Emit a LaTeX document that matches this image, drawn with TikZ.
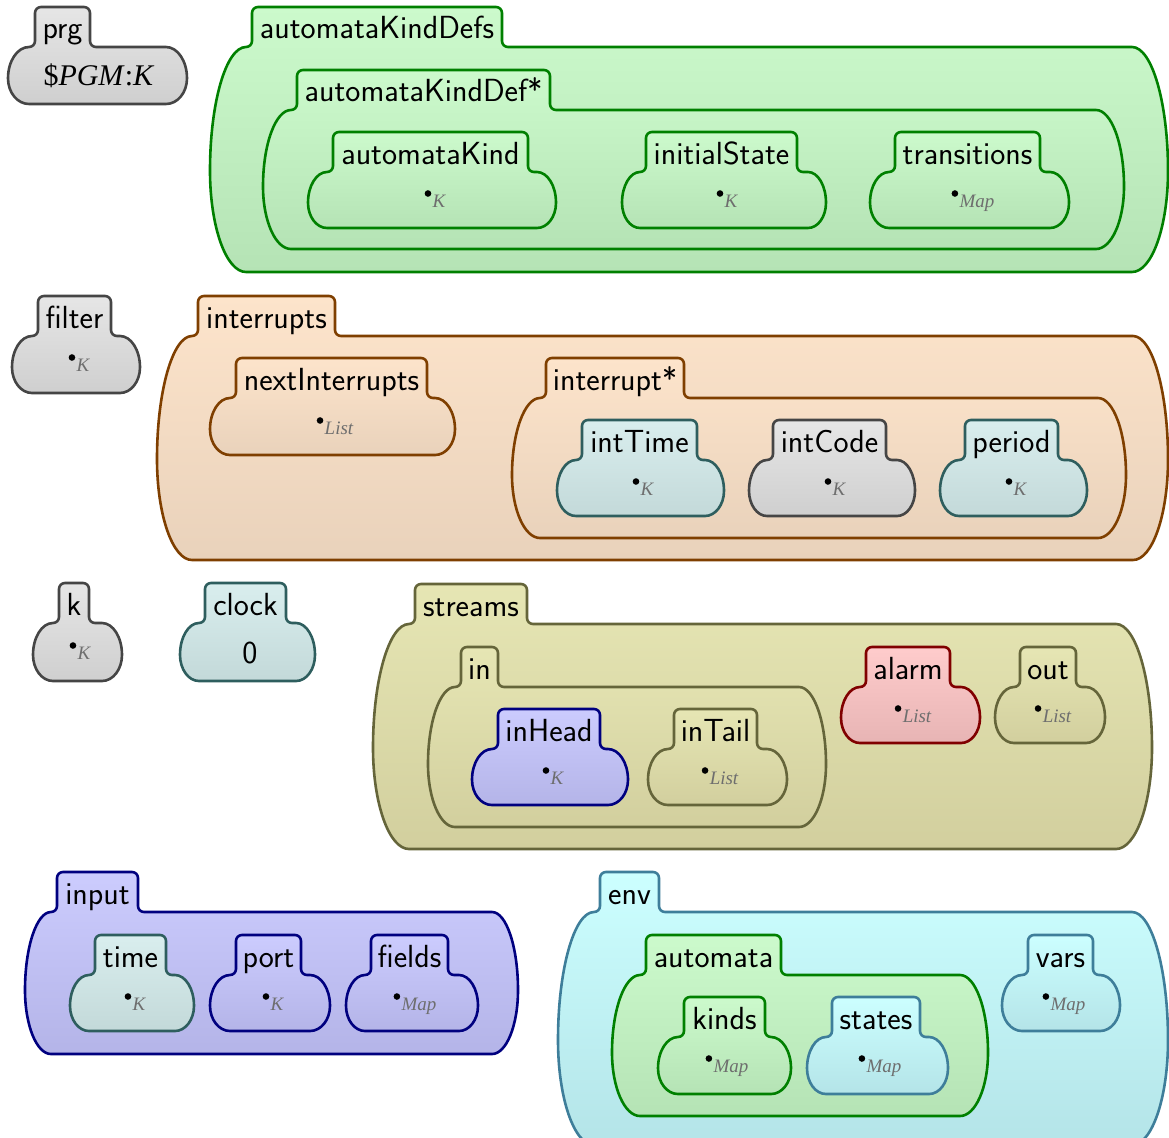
\documentclass[tikz,border=0pt]{standalone}
\usepackage{fontspec}
\newfontfamily\sortfont{Liberation Serif}
\definecolor{grayT}{HTML}{E6E6E6}\definecolor{grayB}{HTML}{CFCFCF}\definecolor{grayD}{HTML}{454545}
\definecolor{greenT}{HTML}{CCFACC}\definecolor{greenB}{HTML}{B5E3B5}\definecolor{greenD}{HTML}{008000}
\definecolor{orangeT}{HTML}{FDE4CB}\definecolor{orangeB}{HTML}{E9D2BB}\definecolor{orangeD}{HTML}{7F3F00}
\definecolor{tealT}{HTML}{D9EEEE}\definecolor{tealB}{HTML}{C3D9D9}\definecolor{tealD}{HTML}{2E5E5E}
\definecolor{oliveT}{HTML}{E6E6B4}\definecolor{oliveB}{HTML}{D2CF9E}\definecolor{oliveD}{HTML}{65653A}
\definecolor{blueT}{HTML}{CCCCFE}\definecolor{blueB}{HTML}{B4B4E8}\definecolor{blueD}{HTML}{00007F}
\definecolor{redT}{HTML}{FFCCCC}\definecolor{redB}{HTML}{E7B4B4}\definecolor{redD}{HTML}{800000}
\definecolor{cyanT}{HTML}{CCFFFF}\definecolor{cyanB}{HTML}{B4E4E8}\definecolor{cyanD}{HTML}{3E7E9A}
\definecolor{sorttext}{HTML}{6E6E6E}
\tikzset{
  cellbase/.style={line width=2.6pt, line join=round},
  kgray/.style={draw=grayD, top color=grayT, bottom color=grayB},
  kgreen/.style={draw=greenD, top color=greenT, bottom color=greenB},
  korange/.style={draw=orangeD, top color=orangeT, bottom color=orangeB},
  kteal/.style={draw=tealD, top color=tealT, bottom color=tealB},
  kolive/.style={draw=oliveD, top color=oliveT, bottom color=oliveB},
  kblue/.style={draw=blueD, top color=blueT, bottom color=blueB},
  kred/.style={draw=redD, top color=redT, bottom color=redB},
  kcyan/.style={draw=cyanD, top color=cyanT, bottom color=cyanB},
  celllabel/.style={anchor=base, inner sep=0pt, font=\sffamily\fontsize{32}{38}\selectfont},
  cellvalue/.style={anchor=center, inner sep=0pt},
  sortlabel/.style={anchor=base, inner sep=0pt, text=sorttext, font=\sortfont\itshape\fontsize{19}{22}\selectfont},
}
% #1 style, #2 L, #3 R, #4 T, #5 B, #6 tab L, #7 tab R, #8 name, #9 label
\newcommand\kcell[9]{%
 \pgfmathsetmacro\kL{#2}\pgfmathsetmacro\kR{#3}\pgfmathsetmacro\kT{#4}\pgfmathsetmacro\kB{#5}%
 \pgfmathsetmacro\ktL{#6}\pgfmathsetmacro\ktR{#7}\pgfmathsetmacro\ktT{#4-40}%
 \pgfmathsetmacro\kf{6}\pgfmathsetmacro\kk{0.5523}%
 \pgfmathsetmacro\krx{\ktL-\kf-\kL}%
 \pgfmathsetmacro\kryT{0.55*(\kB-\kT)}%
 \pgfmathsetmacro\kryB{0.45*(\kB-\kT)}%
 \pgfmathsetmacro\kmid{\kT+\kryT}%
 \pgfmathsetmacro\kc{\kf*(1-\kk)}%
 \path[cellbase,#1] (\ktL-\kf,\kT) .. controls (\ktL-\kc,\kT) and (\ktL,\kT-\kc) .. (\ktL,\kT-\kf)
   -- (\ktL,\ktT+\kf) .. controls (\ktL,\ktT+\kc) and (\ktL+\kc,\ktT) .. (\ktL+\kf,\ktT)
   -- (\ktR-\kf,\ktT) .. controls (\ktR-\kc,\ktT) and (\ktR,\ktT+\kc) .. (\ktR,\ktT+\kf)
   -- (\ktR,\kT-\kf) .. controls (\ktR,\kT-\kc) and (\ktR+\kc,\kT) .. (\ktR+\kf,\kT)
   -- (\kR-\krx,\kT) .. controls (\kR-\krx+\kk*\krx,\kT) and (\kR,\kmid-\kk*\kryT) .. (\kR,\kmid)
   .. controls (\kR,\kmid+\kk*\kryB) and (\kR-\krx+\kk*\krx,\kB) .. (\kR-\krx,\kB)
   -- (\kL+\krx,\kB) .. controls (\kL+\krx-\kk*\krx,\kB) and (\kL,\kmid+\kk*\kryB) .. (\kL,\kmid)
   .. controls (\kL,\kmid-\kk*\kryT) and (\kL+\krx-\kk*\krx,\kT) .. (\kL+\krx,\kT) -- cycle;
 \node[celllabel] (#8) at ({(\ktL+\ktR)/2},\ktT+32) {#9};%
}
% #1 name, #2 cx, #3 cy (body centre), #4 sort
\newcommand\kdot[4]{%
 \node[sortlabel] (#1) at (#2+7,#3+7) {#4};%
 \fill (#1.base west) ++(-4.5,-13.5) circle (3.3);%
}
\begin{document}
\begin{tikzpicture}[x=1pt,y=-1pt]
\useasboundingbox (0,0) rectangle (1169,1137);
\clip (0,0) rectangle (1169,1137);
% prg
\kcell{kgray}{8}{187}{47}{104}{35}{90}{prg}{prg}
\node[cellvalue] (prgval) at (99,76) {\sortfont\fontsize{30}{36}\selectfont\$\textit{PGM}:\textit{K}};
% automataKindDefs
\kcell{kgreen}{210}{1168}{47}{272}{252}{502}{akdefs}{automataKindDefs}
\kcell{kgreen}{263}{1124}{110}{249}{297}{550}{akdef}{automataKindDef*}
\kcell{kgreen}{308}{556}{172}{228}{333}{528}{akind}{automataKind}
\kdot{akindval}{432}{200}{K}
\kcell{kgreen}{622}{826}{172}{228}{646}{797}{istate}{initialState}
\kdot{istateval}{724}{200}{K}
\kcell{kgreen}{870}{1069}{172}{228}{895}{1040}{trans}{transitions}
\kdot{transval}{970}{200}{Map}
% filter
\kcell{kgray}{12}{140}{336}{393}{38}{111}{filter}{filter}
\kdot{filterval}{76}{364}{K}
% interrupts
\kcell{korange}{157}{1168}{336}{560}{198}{335}{intr}{interrupts}
\kcell{korange}{210}{455}{398}{455}{236}{427}{nexti}{nextInterrupts}
\kdot{nextival}{332}{427}{List}
\kcell{korange}{512}{1126}{398}{538}{546}{684}{intrs}{interrupt*}
\kcell{kteal}{557}{724}{460}{516}{582}{697}{inttime}{intTime}
\kdot{inttimeval}{640}{488}{K}
\kcell{kgray}{749}{915}{460}{516}{773}{886}{intcode}{intCode}
\kdot{intcodeval}{832}{488}{K}
\kcell{kteal}{940}{1087}{460}{516}{965}{1058}{period}{period}
\kdot{periodval}{1013}{488}{K}
% k, clock
\kcell{kgray}{33}{122}{623}{681}{59}{89}{k}{k}
\kdot{kval}{77}{652}{K}
\kcell{kteal}{180}{315}{623}{681}{205}{286}{clock}{clock}
\node[cellvalue] (clockval) at (250,653) {\sffamily\fontsize{32}{38}\selectfont 0};
% streams
\kcell{kolive}{373}{1152}{624}{849}{415}{527}{streams}{streams}
\kcell{kolive}{428}{826}{687}{827}{461}{498}{in}{in}
\kcell{kblue}{472}{628}{749}{805}{498}{600}{inhead}{inHead}
\kdot{inheadval}{550}{777}{K}
\kcell{kolive}{648}{787}{749}{805}{674}{757}{intail}{inTail}
\kdot{intailval}{717}{777}{List}
\kcell{kred}{841}{980}{687}{743}{866}{950}{alarm}{alarm}
\kdot{alarmval}{910}{715}{List}
\kcell{kolive}{995}{1105}{687}{743}{1020}{1076}{out}{out}
\kdot{outval}{1050}{715}{List}
% input
\kcell{kblue}{25}{518}{912}{1054}{57}{138}{input}{input}
\kcell{kteal}{70}{194}{975}{1031}{95}{166}{time}{time}
\kdot{timeval}{132}{1003}{K}
\kcell{kblue}{210}{330}{975}{1031}{236}{301}{port}{port}
\kdot{portval}{270}{1003}{K}
\kcell{kblue}{346}{478}{975}{1031}{371}{448}{fields}{fields}
\kdot{fieldsval}{412}{1003}{Map}
% env
\kcell{kcyan}{558}{1168}{912}{1145}{600}{659}{env}{env}
\kcell{kgreen}{612}{988}{975}{1116}{646}{781}{automata}{automata}
\kcell{kgreen}{658}{791}{1037}{1094}{684}{765}{kinds}{kinds}
\kdot{kindsval}{724}{1065}{Map}
\kcell{kcyan}{807}{948}{1037}{1094}{832}{920}{states}{states}
\kdot{statesval}{877}{1065}{Map}
\kcell{kcyan}{1002}{1120}{975}{1031}{1028}{1093}{vars}{vars}
\kdot{varsval}{1061}{1003}{Map}
\end{tikzpicture}
\end{document}
